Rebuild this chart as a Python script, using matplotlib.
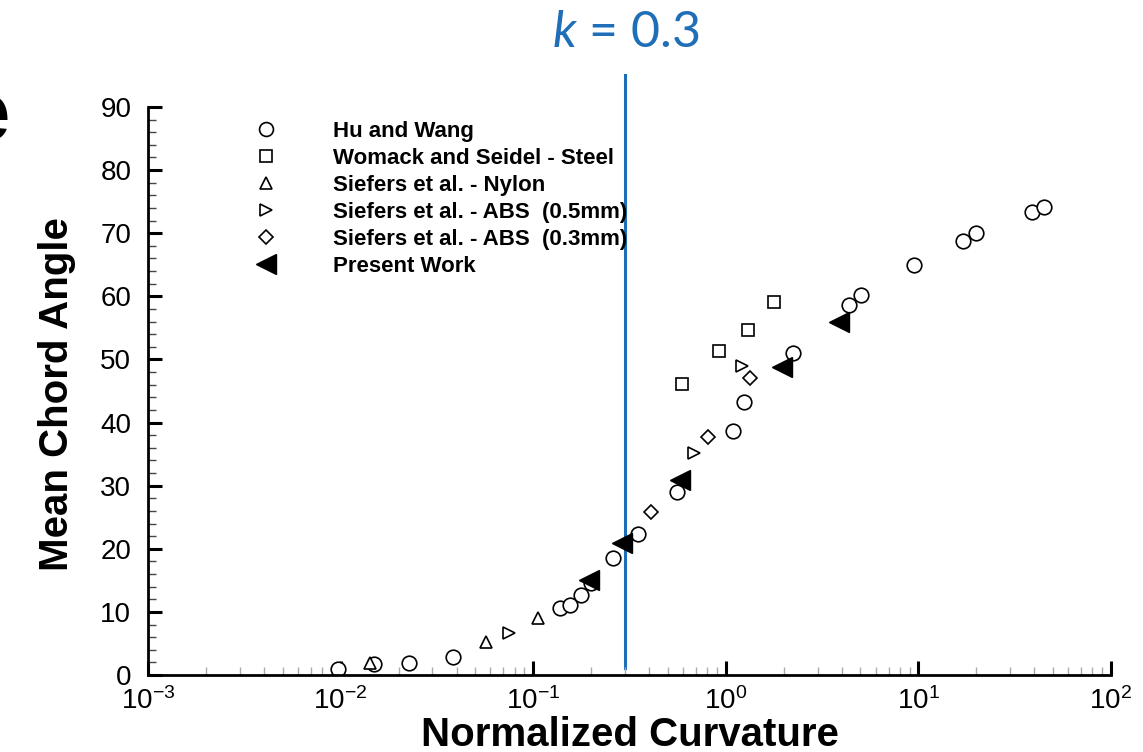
import matplotlib
matplotlib.use('Agg')
import matplotlib.pyplot as plt
import matplotlib.ticker as mticker

plt.rcParams['font.family'] = ['Liberation Sans', 'DejaVu Sans']
plt.rcParams['mathtext.fontset'] = 'custom'
plt.rcParams['mathtext.it'] = 'Lato:italic'
plt.rcParams['axes.unicode_minus'] = False

# data
hu_x = [0.0097, 0.0149, 0.0227, 0.0384, 0.138, 0.155, 0.177, 0.20, 0.259, 0.35,
        0.558, 1.09, 1.24, 2.23, 4.37, 5.03, 9.5, 17.1, 19.9, 38.9, 44.9]
hu_y = [1.0, 1.7, 1.9, 2.9, 10.6, 11.1, 12.7, 14.6, 18.5, 22.3,
        29.0, 38.7, 43.3, 51.0, 58.6, 60.2, 65.0, 68.8, 70.0, 73.4, 74.2]

steel_x = [0.593, 0.922, 1.30, 1.78]
steel_y = [46.1, 51.3, 54.7, 59.1]

nylon_x = [0.0142, 0.0569, 0.106]
nylon_y = [1.9, 5.2, 9.0]

abs05_x = [0.0748, 0.684, 1.21]
abs05_y = [6.6, 35.2, 49.0]

abs03_x = [0.41, 0.81, 1.34]
abs03_y = [25.8, 37.7, 47.1]

present_x = [0.195, 0.29, 0.58, 1.96, 3.87]
present_y = [15.1, 20.9, 30.9, 48.8, 56.0]

k_value = 0.3
k_line_y = [1.1, 95.0]

labels = ['Hu and Wang', 'Womack and Seidel - Steel', 'Siefers et al. - Nylon',
          'Siefers et al. - ABS  (0.5mm)', 'Siefers et al. - ABS  (0.3mm)', 'Present Work']

blue = '#1F6EB8'

fig = plt.figure(figsize=(11.43, 7.52), dpi=100)
ax = fig.add_axes([148 / 1143, 1 - 675 / 752, 963 / 1143, 568 / 752])

open_kw = dict(linestyle='none', markerfacecolor='white', markeredgecolor='black',
               markeredgewidth=1.2)
h1, = ax.plot(hu_x, hu_y, marker='o', markersize=10.5, **open_kw)
h2, = ax.plot(steel_x, steel_y, marker='s', markersize=8, **open_kw)
h3, = ax.plot(nylon_x, nylon_y, marker='^', markersize=9, **open_kw)
h4, = ax.plot(abs05_x, abs05_y, marker='>', markersize=9, **open_kw)
h5, = ax.plot(abs03_x, abs03_y, marker='D', markersize=7, **open_kw)
h6, = ax.plot(present_x, present_y, marker='<', markersize=15, linestyle='none',
              color='black', zorder=3)

# k = 0.3 marker line, runs above the axes top
ax.plot([k_value, k_value], k_line_y, color=blue, linewidth=2.2, clip_on=False, zorder=1)

ax.set_xscale('log')
ax.set_xlim(1e-3, 1e2)
ax.set_ylim(0, 90)

for s in ['top', 'right']:
    ax.spines[s].set_visible(False)
for s in ['left', 'bottom']:
    ax.spines[s].set_linewidth(2.0)

ax.yaxis.set_major_locator(mticker.MultipleLocator(10))
ax.yaxis.set_minor_locator(mticker.MultipleLocator(2))
ax.xaxis.set_minor_locator(mticker.LogLocator(base=10, subs=range(2, 10), numticks=20))
ax.xaxis.set_minor_formatter(mticker.NullFormatter())

ax.tick_params(axis='both', which='major', direction='in', length=10, width=2.2,
               labelsize=20, color='black')
ax.tick_params(axis='y', which='major', pad=12)
ax.tick_params(axis='x', which='major', pad=9)
ax.tick_params(axis='y', which='minor', direction='in', length=6, width=1.0, color='#444444')
ax.tick_params(axis='x', which='minor', direction='in', length=6, width=1.0, color='#aaaaaa')

ax.set_xlabel('Normalized Curvature', fontsize=29, fontweight='bold')
ax.set_ylabel('Mean Chord Angle', fontsize=29, fontweight='bold')
ax.xaxis.set_label_coords(0.5, -0.072)
ax.yaxis.set_label_coords(-0.075, 0.495)

leg = ax.legend([h1, h2, h3, h4, h5, h6], labels, loc='upper left',
                bbox_to_anchor=(0.1106, 0.976), frameon=False, borderpad=0,
                borderaxespad=0, handlelength=1.0, handletextpad=2.55,
                labelspacing=0.27, prop={'size': 16, 'weight': 'bold'})
leg.legend_handles[0].set_markersize(10)
leg.legend_handles[5].set_markersize(14)

fig.text(626 / 1143, 1 - 47 / 752, r'$k$ = 0.3', fontsize=36, color=blue,
         family=['Lato', 'DejaVu Sans'], ha='center', va='baseline')
# clipped letter at the left edge of the reference slide
fig.text(10 / 1143, 1 - 140 / 752, 'e', fontsize=60, fontweight='bold',
         ha='right', va='baseline')

fig.savefig('out.png', dpi=100)
